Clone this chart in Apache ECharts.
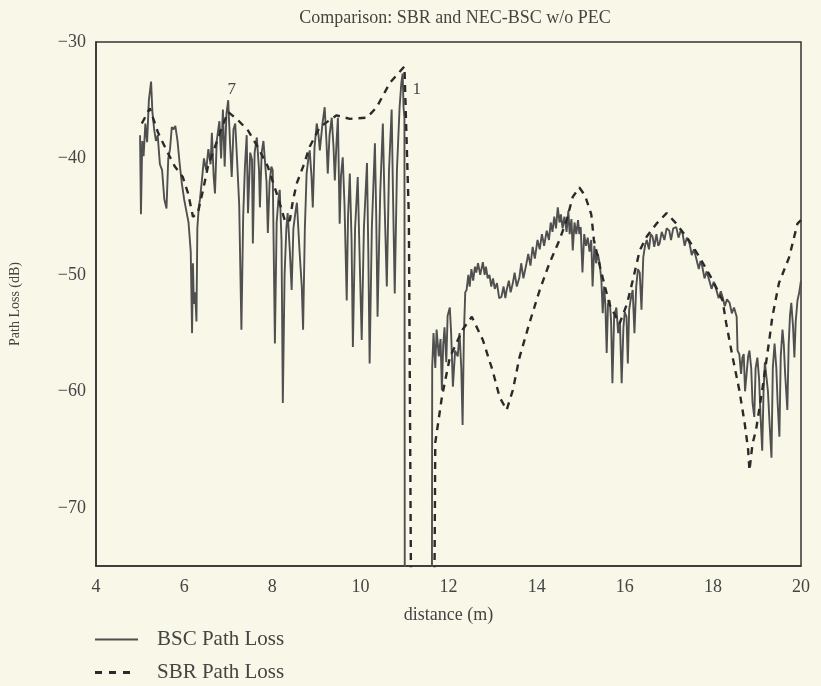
<!DOCTYPE html>
<html>
<head>
<meta charset="utf-8">
<script src="https://cdn.jsdelivr.net/npm/echarts@6/dist/echarts.min.js"></script>
<style>
  html, body { margin: 0; padding: 0; background: #f9f8e8; }
  #chart { width: 821px; height: 686px; }
</style>
</head>
<body>
<div id="chart"></div>
<script>
// distance (m) / path loss (dB)
const bscDist = [5.00, 5.02, 5.05, 5.08, 5.12, 5.16, 5.20, 5.25, 5.28, 5.32, 5.36, 5.40, 5.45, 5.50, 5.55, 5.60, 5.64, 5.68, 5.72, 5.76, 5.80, 5.85, 5.90, 5.95, 6.00, 6.05, 6.10, 6.15, 6.18, 6.20, 6.22, 6.25, 6.28, 6.30, 6.33, 6.36, 6.40,
  6.45, 6.50, 6.55, 6.60, 6.63, 6.67, 6.70, 6.74, 6.80, 6.84, 6.88, 6.92, 6.96, 7.00, 7.04, 7.08, 7.12, 7.16, 7.20, 7.25, 7.30, 7.34, 7.38, 7.42, 7.45, 7.50, 7.54, 7.56, 7.60, 7.65, 7.70, 7.72, 7.76, 7.80, 7.83, 7.87, 7.90, 7.94, 7.98,
  8.01, 8.06, 8.10, 8.14, 8.17, 8.21, 8.24, 8.28, 8.32, 8.35, 8.40, 8.44, 8.48, 8.53, 8.56, 8.62, 8.67, 8.70, 8.74, 8.78, 8.82, 8.85, 8.89, 8.92, 8.96, 9.01, 9.05, 9.08, 9.14, 9.19, 9.23, 9.26, 9.30, 9.35, 9.39, 9.42, 9.46, 9.49,
  9.53, 9.56, 9.60, 9.64, 9.69, 9.72, 9.76, 9.80, 9.83, 9.88, 9.94, 9.98, 10.03, 10.08, 10.15, 10.18, 10.21, 10.26, 10.33, 10.36, 10.39, 10.45, 10.51, 10.55, 10.60, 10.65, 10.71, 10.74, 10.78, 10.83, 10.89, 10.93, 10.96, 10.98, 11.00,
  11.01, 11.62, 11.63, 11.66, 11.70, 11.73, 11.78, 11.82, 11.85, 11.88, 11.91, 11.95, 11.98, 12.03, 12.06, 12.10, 12.15, 12.21, 12.25, 12.29, 12.32, 12.35, 12.38, 12.41, 12.45, 12.48, 12.52, 12.56, 12.60, 12.63, 12.67, 12.72, 12.78,
  12.82, 12.85, 12.89, 12.93, 12.97, 13.01, 13.05, 13.10, 13.15, 13.20, 13.25, 13.29, 13.32, 13.37, 13.41, 13.46, 13.50, 13.55, 13.61, 13.65, 13.70, 13.77, 13.81, 13.86, 13.91, 13.96, 14.02, 14.07, 14.12, 14.17, 14.23, 14.28,
  14.32, 14.36, 14.40, 14.44, 14.48, 14.52, 14.55, 14.59, 14.63, 14.68, 14.72, 14.75, 14.79, 14.82, 14.86, 14.90, 14.94, 14.97, 15.00, 15.04, 15.08, 15.12, 15.16, 15.20, 15.24, 15.27, 15.31, 15.35, 15.39, 15.43, 15.47, 15.50,
  15.53, 15.56, 15.59, 15.62, 15.66, 15.69, 15.72, 15.76, 15.81, 15.85, 15.89, 15.93, 15.97, 16.00, 16.04, 16.07, 16.10, 16.14, 16.18, 16.22, 16.26, 16.30, 16.34, 16.38, 16.42, 16.46, 16.50, 16.55, 16.59, 16.63, 16.67, 16.72,
  16.76, 16.79, 16.84, 16.90, 16.95, 17.01, 17.05, 17.10, 17.17, 17.22, 17.27, 17.31, 17.36, 17.41, 17.47, 17.52, 17.57, 17.63, 17.68, 17.72, 17.76, 17.81, 17.86, 17.92, 17.97, 18.02, 18.08, 18.13, 18.18, 18.22, 18.27, 18.32,
  18.38, 18.43, 18.48, 18.54, 18.56, 18.60, 18.64, 18.67, 18.70, 18.73, 18.76, 18.80, 18.83, 18.87, 18.90, 18.94, 18.97, 19.01, 19.05, 19.08, 19.12, 19.15, 19.18, 19.21, 19.25, 19.29, 19.33, 19.36, 19.40, 19.44, 19.47, 19.51,
  19.54, 19.58, 19.61, 19.64, 19.69, 19.72, 19.75, 19.78, 19.82, 19.85, 19.88, 19.92, 19.96, 20.00];
const bscLoss = [-38, -44.8, -38.5, -39.8, -37, -38.6, -35, -33.4, -36, -37.5, -38.5, -38, -40.5, -41, -43.5, -44.3, -40, -39.2, -37.3, -37.5, -37.2, -38.5, -40.5, -42.2, -43.5, -44.5, -45.5, -48, -55, -49, -52.5, -51.5, -54, -46, -44.3, -43.5, -42,
  -40, -41, -39.2, -40.5, -37.8, -41.5, -43, -38.5, -36.8, -40, -35.8, -40.7, -36.2, -35, -38.5, -41.6, -37.5, -37, -40, -44, -54.7, -45, -40.7, -38, -44.7, -39.5, -40.1, -47.3, -39.5, -38.2, -41, -44.2, -39.5, -38.5, -38.4, -42, -46.4, -42, -40.7,
  -41, -55.9, -45.5, -43.5, -42.7, -47, -61, -50, -46, -44.7, -48, -51.3, -46, -44.5, -43.8, -48, -51, -54.7, -46, -41.3, -40, -39.3, -41.5, -44.2, -39, -37, -38, -39.3, -37, -35.6, -38.5, -41.3, -38, -36.5, -39, -41.9, -38.5, -36.5,
  -45.6, -41.5, -39.9, -44, -52.2, -45, -41.3, -47, -56.2, -46, -41.6, -48, -55.6, -46, -40.4, -48, -57.6, -46, -38.7, -45, -53.6, -43, -37, -44, -51, -41, -35.8, -43, -51.6, -41, -35.6, -33.5, -32.7, -35.6, -36.5,
  -90, -90, -57.9, -55, -58, -54.7, -57, -55.5, -59.9, -56, -54.5, -57.5, -53.5, -52.8, -55, -59.6, -56.5, -57, -55, -58, -62.9, -55, -51.5, -51.3, -50, -51, -49.5, -50.5, -49.3, -49.8, -49, -50, -48.9,
  -50, -49.3, -50.3, -50, -51, -50.3, -51.2, -50.7, -52, -51.9, -51, -52, -51.3, -50.5, -51.5, -50.7, -49.8, -51, -50.2, -49, -50.3, -49, -48.2, -49.2, -47.6, -48.6, -47, -47.8, -46.5, -47.5, -46.2, -47,
  -45.5, -46.3, -45, -46, -44.2, -45.5, -44.8, -46, -45, -46.3, -44.5, -46.5, -45.2, -47.9, -45.5, -46.5, -45.3, -46.5, -45.9, -49.8, -46.5, -47.5, -46.8, -48, -47, -51, -47.5, -49, -48.2, -49, -50.5, -53.3,
  -51, -52.5, -56.7, -52.5, -52.2, -54, -59.3, -53.5, -52.8, -55, -54, -59.3, -54.5, -53.2, -53.6, -57.6, -53, -52, -51.3, -55, -51, -49.5, -49.8, -53, -48.5, -47.5, -47, -47.8, -46.5, -46.7, -47.6, -46.5,
  -47.5, -47.3, -46.3, -47, -46, -46.2, -47, -46, -45.9, -46.8, -46.2, -46.4, -47.5, -46.8, -47.3, -48.3, -47.8, -48.7, -49.5, -48.8, -49.3, -50.3, -49.7, -50.5, -51.2, -50.6, -51.3, -52, -51.4, -51.9, -52.7, -52.1,
  -52.4, -53.3, -52.8, -53.6, -56.5, -56.8, -58.5, -57.1, -56.8, -60, -59.9, -57, -56.5, -58, -61, -62.2, -58, -57.1, -59, -62, -65.1, -60, -57.5, -57.6, -60, -63, -65.7, -58, -55.9, -58, -61, -63.9,
  -57, -54.7, -56, -58.5, -61.6, -56, -53.5, -52.4, -54.5, -57.1, -54, -52.2, -51.5, -50.5];

const sbrDist = [5.04, 5.22, 5.41, 5.60, 5.79, 5.97, 6.09, 6.20, 6.31, 6.43, 6.54, 6.70, 6.86, 7.00, 7.22, 7.45, 7.67, 7.90, 8.10, 8.30, 8.40, 8.47, 8.56, 8.70, 8.85, 9.08, 9.46, 9.76, 10.15, 10.37, 10.67, 11.00,
  11.10, 11.17, 11.66, 11.70, 11.85, 12.03, 12.32, 12.53, 12.78, 13.00, 13.16, 13.32, 13.46, 13.61, 13.84, 14.07, 14.29, 14.52, 14.68, 14.82, 14.97, 15.10, 15.24, 15.30, 15.45, 15.65, 15.88, 16.05, 16.18, 16.34, 16.50,
  16.72, 16.95, 17.17, 17.45, 17.70, 18.00, 18.22, 18.30, 18.45, 18.60, 18.72, 18.80, 18.83, 18.90, 18.98, 19.12, 19.28, 19.35, 19.50, 19.73, 19.92, 20.00];
const sbrLoss = [-37, -35.7, -37.8, -39.3, -40.7, -41.6, -43, -45, -44.7, -42.7, -40.7, -39, -37.3, -36, -36.7, -37.6, -39, -40.7, -43, -45.5, -45.3, -43.6, -42.1, -40.7, -39, -37.3, -36.3, -36.6, -36.5, -35.6, -33.5, -32.1,
  -45, -90, -90, -64.4, -60.5, -57.1, -54.7, -53.6, -55.6, -58.2, -60.5, -61.6, -59.9, -57.1, -54.1, -51.3, -49, -47, -45.3, -43.3, -42.5, -43.2, -44.8, -47, -49.5, -52.5, -54.2, -52.5, -50.5, -47.9, -46.7,
  -45.6, -44.7, -45.6, -47, -48.5, -50.5, -52.2, -54.1, -57.1, -59.9, -62.7, -65, -66.8, -64.5, -63.3, -59.9, -55.6, -53.6, -50.7, -48.5, -45.6, -45.3];

// small labels printed on the plot
const noteLabels = ['7', '1'];
const notePoints = [[7.08, -34.1], [11.28, -34.1]];

const xTicks = [4, 20, 2];
const yTicks = [-75, -30, 5];

const zip = (xs, ys) => xs.map((x, i) => [x, ys[i]]);

const serif = 'Liberation Serif';
const ink = '#444';

const chart = echarts.init(document.getElementById('chart'));
chart.setOption({
  backgroundColor: '#f9f8e8',
  animation: false,
  title: {
    text: 'Comparison: SBR and NEC-BSC w/o PEC',
    left: 450, top: 4, textAlign: 'center',
    textStyle: { fontFamily: serif, fontSize: 18, fontWeight: 'normal', color: ink }
  },
  legend: [
    {
      left: 95, top: 629, padding: 0, itemWidth: 43, itemHeight: 2,
      data: [{ name: 'BSC Path Loss', icon: 'path://M0,0H43V2H0Z' }],
      textStyle: { fontFamily: serif, fontSize: 21, color: ink, padding: [0, 0, 0, 14] }
    },
    {
      left: 95, top: 662, padding: 0, itemWidth: 35, itemHeight: 3,
      data: [{ name: 'SBR Path Loss', icon: 'path://M0,0H7V3H0Z M14,0H21V3H14Z M28,0H35V3H28Z' }],
      textStyle: { fontFamily: serif, fontSize: 21, color: ink, padding: [0, 0, 0, 22] }
    }
  ],
  grid: {
    left: 96, right: 20, top: 42, bottom: 120, outerBoundsMode: 'none',
    show: true, borderColor: '#333', borderWidth: 1.5, backgroundColor: 'transparent'
  },
  xAxis: {
    type: 'value', min: xTicks[0], max: xTicks[1], interval: xTicks[2],
    name: 'distance (m)', nameLocation: 'middle', nameGap: 40,
    nameTextStyle: { fontFamily: serif, fontSize: 18, color: ink },
    axisLine: { lineStyle: { color: '#333', width: 1.5 } },
    axisTick: { show: false }, splitLine: { show: false },
    axisLabel: { fontFamily: serif, fontSize: 18, color: ink, margin: 12 }
  },
  yAxis: {
    type: 'value', min: yTicks[0], max: yTicks[1], interval: yTicks[2],
    name: 'Path Loss (dB)', nameLocation: 'middle', nameGap: 74, nameRotate: 90,
    nameTextStyle: { fontFamily: serif, fontSize: 14, color: ink },
    axisLine: { lineStyle: { color: '#333', width: 1.5 } },
    axisTick: { show: false }, splitLine: { show: false },
    axisLabel: {
      fontFamily: serif, fontSize: 18, color: ink, margin: 10,
      formatter: v => (v % 10 === 0 ? '\u2212' + Math.abs(v) : '')
    }
  },
  series: [
    {
      name: 'BSC Path Loss', type: 'line', data: zip(bscDist, bscLoss),
      symbol: 'none', clip: true,
      lineStyle: { color: '#505050', width: 1.9 },
      itemStyle: { color: '#505050' },
      markPoint: {
        symbol: 'circle', symbolSize: 1, itemStyle: { color: 'rgba(0,0,0,0)' },
        label: { show: true, formatter: p => p.name, fontFamily: serif, fontSize: 17, color: ink },
        data: notePoints.map((c, i) => ({ name: noteLabels[i], coord: c }))
      }
    },
    {
      name: 'SBR Path Loss', type: 'line', data: zip(sbrDist, sbrLoss),
      symbol: 'none', clip: true,
      lineStyle: { color: '#2a2a2a', width: 2.4, type: [7, 6] },
      itemStyle: { color: '#2a2a2a' }
    }
  ]
});
window.addEventListener('resize', () => chart.resize());
</script>
</body>
</html>
